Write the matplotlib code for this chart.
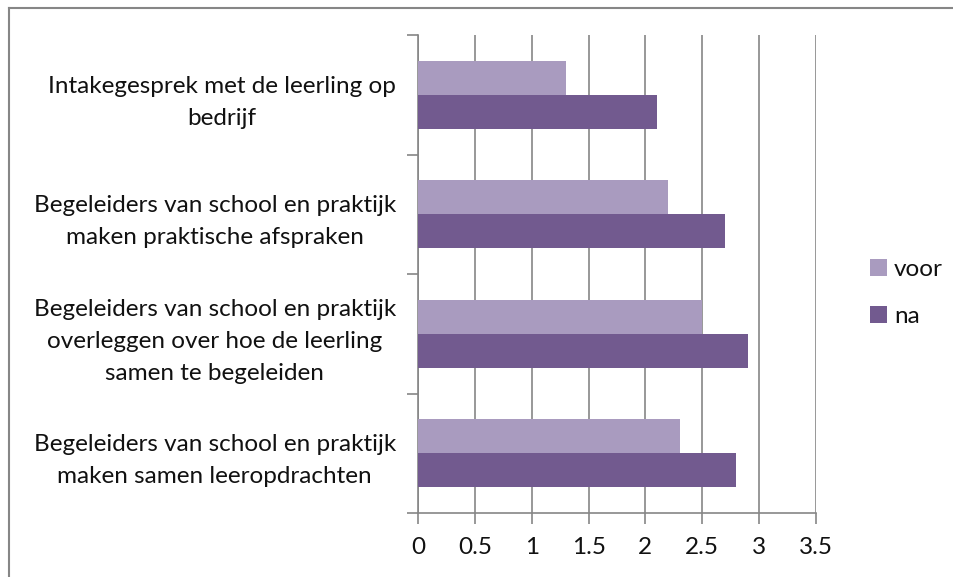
import matplotlib
matplotlib.use("Agg")
import matplotlib.pyplot as plt
import numpy as np
from matplotlib.patches import Patch
from matplotlib.lines import Line2D

categories = [
    "Begeleiders van school en praktijk\nmaken samen leeropdrachten",
    "Begeleiders van school en praktijk\noverleggen over hoe de leerling\nsamen te begeleiden",
    "Begeleiders van school en praktijk\nmaken praktische afspraken",
    "Intakegesprek met de leerling op\nbedrijf",
]
voor = [2.3, 2.5, 2.2, 1.3]
na = [2.8, 2.9, 2.7, 2.1]
series_names = ["voor", "na"]
x_ticks = [0, 0.5, 1, 1.5, 2, 2.5, 3, 3.5]

c_voor = "#A99BBF"
c_na = "#725A8F"
grid_c = "#868686"
FS = 17.5

plt.rcParams['font.family'] = ['Lato', 'DejaVu Sans']

fig = plt.figure(figsize=(9.54, 5.77), dpi=100)
ax = fig.add_axes([418/954, 1-513/577, (816-418)/954, (513-35)/577])

n = len(categories)
y = np.arange(n)
w = 1/3.5
ax.barh(y - w/2, na, height=w, color=c_na, zorder=3)
ax.barh(y + w/2, voor, height=w, color=c_voor, zorder=3)

ax.set_xlim(0, 3.5)
ax.set_ylim(-0.5, n - 0.5)
ax.set_xticks(x_ticks)
ax.set_xticklabels([f"{t:g}" for t in x_ticks], fontsize=FS, color="#111111")
ax.xaxis.grid(True, color=grid_c, linewidth=1.2, zorder=0)
ax.set_axisbelow(True)

ax.set_yticks(np.arange(-0.5, n, 1.0))
ax.set_yticklabels([])
ax.set_yticks(y, minor=True)
ax.set_yticklabels(categories, minor=True, fontsize=FS, multialignment='center',
                   linespacing=1.65, color="#111111")
ax.tick_params(axis='y', which='minor', length=0, pad=16)
ax.tick_params(axis='y', which='major', length=8, color=grid_c, width=1.2)
ax.tick_params(axis='x', length=8, color=grid_c, width=1.2, pad=9)

for s in ['top', 'right']:
    ax.spines[s].set_visible(False)
for s in ['left', 'bottom']:
    ax.spines[s].set_color(grid_c)
    ax.spines[s].set_linewidth(1.2)

handles = [Patch(facecolor=c_voor), Patch(facecolor=c_na)]
leg = fig.legend(handles, series_names, loc='center left', bbox_to_anchor=(848/954, 1-293/577),
                 frameon=False, fontsize=FS, handlelength=0.7, handleheight=0.7,
                 handletextpad=0.3, labelspacing=1.05)
for t in leg.get_texts():
    t.set_color("#111111")

# outer chart border (top and left visible)
fig.add_artist(Line2D([9/954, 9/954], [0, 1-8/577], color="#868686", linewidth=1.5, transform=fig.transFigure))
fig.add_artist(Line2D([9/954, 1], [1-8/577, 1-8/577], color="#868686", linewidth=1.5, transform=fig.transFigure))

fig.savefig("out.png", dpi=100)
